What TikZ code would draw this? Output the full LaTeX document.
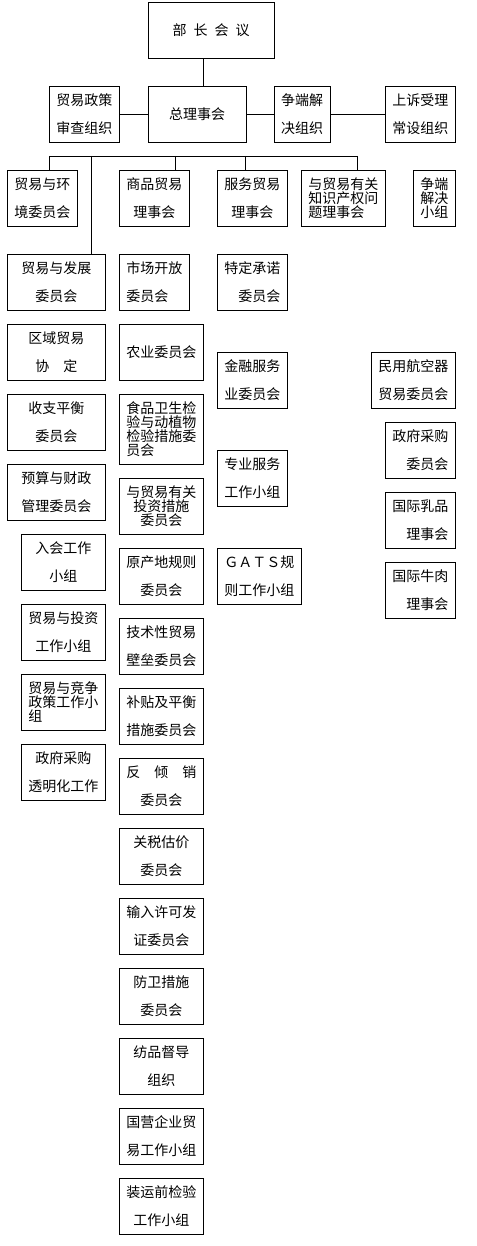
\documentclass[tikz,border=0pt]{standalone}
\usepackage{fontspec}
\setmainfont{Noto Sans CJK SC}
\usepackage{tikz}
\usetikzlibrary{positioning}

\begin{document}
\begin{tikzpicture}[x=1pt, y=-1pt, line width=0.8pt,
    bx/.style={draw, line width=0.8pt, minimum width=84pt, minimum height=56pt, inner sep=0pt, align=center, font=\fontsize{14}{28}\selectfont},
    tg/.style={font=\fontsize{14}{14}\selectfont}]
  \useasboundingbox (0,0) rectangle (476,1246);
  % top levels
  \node[bx, minimum width=126pt] (bz) at (211,30.3) {部\enspace 长\enspace 会\enspace 议};
  \node[bx, minimum width=70pt] (zc) at (84.3,114.5) {贸易政策\\审查组织};
  \node[bx, minimum width=98pt] (zl) at (197,114.5) {总理事会};
  \node[bx, minimum width=56pt] (zd) at (302,114.5) {争端解\\决组织};
  \node[bx, minimum width=70pt] (ss) at (420.3,114.5) {上诉受理\\常设组织};
  \draw ([xshift=-7.4pt]bz.south) -- ([xshift=-7.4pt]bz.south |- zl.north);
  \draw (zc.east) -- (zl.west);
  \draw (zl.east) -- (zd.west);
  \draw (zd.east) -- (ss.west);
  % councils
  \node[bx, minimum width=70pt] (hj) at (42.3,198.3) {贸易与环\\境委员会};
  \node[bx, minimum width=70pt] (sp) at (154.3,198.3) {商品贸易\\理事会};
  \node[bx, minimum width=70pt] (fm) at (252.3,198.3) {服务贸易\\理事会};
  \node[bx, tg, align=left] (zscq) at (343.3,198.3) {与贸易有关\\知识产权问\\题理事会};
  \node[bx, tg, minimum width=42pt] (zdxz) at (434.3,198.3) {争端\\解决\\小组};
  \coordinate (b1) at (49.3,156);
  \coordinate (b2) at (91.3,156);
  \coordinate (b3) at (175.7,156);
  \coordinate (b4) at (245.7,156);
  \coordinate (b5) at (357.7,156);
  \draw (b1) -- (b5);
  \draw (b1) -- (b1 |- hj.north);
  \draw (b3) -- (b3 |- sp.north);
  \draw (b4) -- (b4 |- fm.north);
  \draw (b5) -- (b5 |- zscq.north);
  % committees under general council
  \node[bx, minimum width=98pt] (fz) at (56.3,282.3) {贸易与发展\\委员会};
  \node[bx, minimum width=98pt] (qy) at (56.3,352.3) {区域贸易\\协　定};
  \node[bx, minimum width=98pt] (sz) at (56.3,422.3) {收支平衡\\委员会};
  \node[bx, minimum width=98pt] (ys) at (56.3,492.3) {预算与财政\\管理委员会};
  \node[bx] (rh) at (63.3,562.3) {入会工作\\小组};
  \node[bx] (tz) at (63.3,632.3) {贸易与投资\\工作小组};
  \node[bx, tg, align=left] (jz) at (63.3,702.3) {贸易与竞争\\政策工作小\\组};
  \node[bx] (cg) at (63.3,772.3) {政府采购\\透明化工作};
  \draw (b2) -- (b2 |- fz.north);
  % goods council
  \node[bx, minimum width=70pt, align=left] (sc) at (154.3,282.3) {市场开放\\委员会};
  \node[bx] (ny) at (161.3,352.3) {农业委员会};
  \node[bx, tg, align=left, minimum height=70pt] (wj) at (161.3,429.3) {食品卫生检\\验与动植物\\检验措施委\\员会};
  \node[bx, tg] (tr) at (161.3,506.3) {与贸易有关\\投资措施\\委员会};
  \node[bx] (yc) at (161.3,576.3) {原产地规则\\委员会};
  \node[bx] (jb) at (161.3,646.3) {技术性贸易\\壁垒委员会};
  \node[bx] (bt) at (161.3,716.3) {补贴及平衡\\措施委员会};
  \node[bx] (fq) at (161.3,786.3) {反　倾　销\\委员会};
  \node[bx] (gs) at (161.3,856.3) {关税估价\\委员会};
  \node[bx] (xk) at (161.3,926.3) {输入许可发\\证委员会};
  \node[bx] (fw) at (161.3,996.3) {防卫措施\\委员会};
  \node[bx] (fp) at (161.3,1066.3) {纺品督导\\组织};
  \node[bx] (gy) at (161.3,1136.3) {国营企业贸\\易工作小组};
  \node[bx] (zy) at (161.3,1206.3) {装运前检验\\工作小组};
  % services council
  \node[bx, minimum width=70pt, align=right] (td) at (252.3,282.3) {特定承诺\\委员会};
  \node[bx, minimum width=70pt, align=left] (jr) at (252.3,380.3) {金融服务\\业委员会};
  \node[bx, minimum width=70pt] (zyfw) at (252.3,478.3) {专业服务\\工作小组};
  \node[bx] (gats) at (259.3,576.3) {ＧＡＴＳ规\\则工作小组};
  % plurilateral
  \node[bx] (mh) at (413.3,380.3) {民用航空器\\贸易委员会};
  \node[bx, minimum width=70pt, align=right] (zf) at (420.3,450.3) {政府采购\\委员会};
  \node[bx, minimum width=70pt, align=right] (rp) at (420.3,520.3) {国际乳品\\理事会};
  \node[bx, minimum width=70pt, align=right] (nr) at (420.3,590.3) {国际牛肉\\理事会};
\end{tikzpicture}
\end{document}
